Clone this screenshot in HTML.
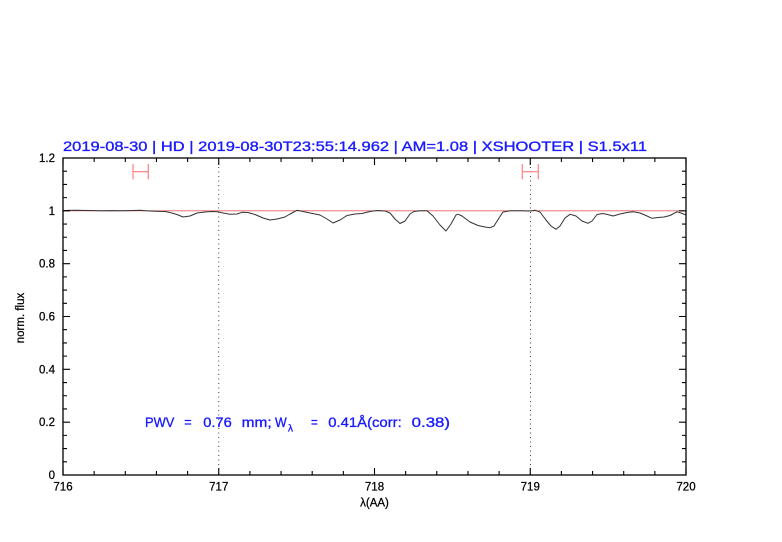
<!DOCTYPE html>
<html><head><meta charset="utf-8"><style>
html,body{margin:0;padding:0;background:#fff;}
svg{display:block;}
text{font-family:"Liberation Sans","DejaVu Sans",sans-serif;}
</style></head><body>
<svg width="782" height="542" viewBox="0 0 782 542" xmlns="http://www.w3.org/2000/svg">
<rect width="782" height="542" fill="#fff"/>
<!-- title -->
<text x="63" y="151" font-size="14" fill="#1a1aff" stroke="#1a1aff" stroke-width="0.35" textLength="584" lengthAdjust="spacingAndGlyphs">2019-08-30 | HD | 2019-08-30T23:55:14.962 | AM=1.08 | XSHOOTER | S1.5x11</text>
<!-- dotted verticals -->
<line x1="218.7" y1="158" x2="218.7" y2="475" stroke="#444" stroke-width="1" stroke-dasharray="1,3.5"/>
<line x1="530.5" y1="158" x2="530.5" y2="475" stroke="#444" stroke-width="1" stroke-dasharray="1,3.5"/>
<!-- unity line -->
<line x1="63" y1="210.8" x2="686" y2="210.8" stroke="#e86060" stroke-width="0.9"/>
<!-- spectrum -->
<polyline fill="none" stroke="#333" stroke-width="1" stroke-linejoin="round" points="63,210.5 75,210.3 90,210.5 100,210.8 112,210.6 120,210.7 130,210.6 140,210.3 146,210.8 155,211.2 165,211.5 170,212.5 177,214.5 183,217 190,216 197,213 205,212 212,211.5 218,211.8 223,213 230,214.2 237,214 242,212.3 248,212.5 255,214.5 263,218 270,220 277,219 285,217 290,214 297,210.3 303,211.5 310,213 320,215 327,219 333,223 340,220 347,215.5 355,214 362,213.5 368,212 373,211 378,210.5 385,211 390,213 395,219 400,223.5 405,221 410,214 414,211.5 420,210.8 427,210.8 433,216 440,225 446,231 451,224 456,215 458,214.2 462,216 470,222 478,225.5 485,227 490,227.7 494,226 499,218 503,212 510,210.8 520,210.8 530,211 535,210.2 540,212 546,220 551,226 556,229.3 560,226 565,218 570,214.3 576,216 582,221 588,223.3 592,221 597,214.5 603,213.5 608,214.6 613,216 620,214 627,212.5 633,211.7 640,213 647,216 652,218.3 658,217.5 664,217 670,215.5 677,211.8 681,213 686,215"/>
<!-- error bars -->
<g stroke="#ff8080" stroke-width="1.2">
<line x1="133" y1="171.7" x2="148.3" y2="171.7"/>
<line x1="133" y1="164" x2="133" y2="179.3"/>
<line x1="148.3" y1="164" x2="148.3" y2="179.3"/>
<line x1="522.3" y1="171.7" x2="538.3" y2="171.7"/>
<line x1="522.3" y1="164" x2="522.3" y2="179.3"/>
<line x1="538.3" y1="164" x2="538.3" y2="179.3"/>
</g>
<!-- frame -->
<rect x="63" y="158" width="623" height="317" fill="none" stroke="#000" stroke-width="1.3"/>
<g stroke="#000" stroke-width="1.1">
<path d="M63,475v-7M218.75,475v-7M374.5,475v-7M530.25,475v-7M686,475v-7
M63,158v7M218.75,158v7M374.5,158v7M530.25,158v7M686,158v7"/>
<path d="M94.15,475v-4M125.3,475v-4M156.45,475v-4M187.6,475v-4
M249.9,475v-4M281.05,475v-4M312.2,475v-4M343.35,475v-4
M405.65,475v-4M436.8,475v-4M467.95,475v-4M499.1,475v-4
M561.4,475v-4M592.55,475v-4M623.7,475v-4M654.85,475v-4
M94.15,158v4M125.3,158v4M156.45,158v4M187.6,158v4
M249.9,158v4M281.05,158v4M312.2,158v4M343.35,158v4
M405.65,158v4M436.8,158v4M467.95,158v4M499.1,158v4
M561.4,158v4M592.55,158v4M623.7,158v4M654.85,158v4"/>
<path d="M63,475h7M63,422.17h7M63,369.33h7M63,316.5h7M63,263.67h7M63,210.83h7M63,158h7
M686,475h-7M686,422.17h-7M686,369.33h-7M686,316.5h-7M686,263.67h-7M686,210.83h-7M686,158h-7"/>
<path d="M63,461.79h4M63,448.58h4M63,435.38h4
M63,408.96h4M63,395.75h4M63,382.54h4
M63,356.13h4M63,342.92h4M63,329.71h4
M63,303.29h4M63,290.08h4M63,276.88h4
M63,250.46h4M63,237.25h4M63,224.04h4
M63,197.63h4M63,184.42h4M63,171.21h4
M686,461.79h-4M686,448.58h-4M686,435.38h-4
M686,408.96h-4M686,395.75h-4M686,382.54h-4
M686,356.13h-4M686,342.92h-4M686,329.71h-4
M686,303.29h-4M686,290.08h-4M686,276.88h-4
M686,250.46h-4M686,237.25h-4M686,224.04h-4
M686,197.63h-4M686,184.42h-4M686,171.21h-4"/>
</g>
<!-- y tick labels -->
<g font-size="11.5" fill="#000" stroke="#000" stroke-width="0.25" text-anchor="end">
<text x="55" y="479">0</text>
<text x="55" y="426.2">0.2</text>
<text x="55" y="373.3">0.4</text>
<text x="55" y="320.5">0.6</text>
<text x="55" y="267.7">0.8</text>
<text x="55" y="214.8">1</text>
<text x="55" y="162">1.2</text>
</g>
<!-- x tick labels -->
<g font-size="11.5" fill="#000" stroke="#000" stroke-width="0.25" text-anchor="middle">
<text x="63" y="490.5">716</text>
<text x="218.75" y="490.5">717</text>
<text x="374.5" y="490.5">718</text>
<text x="530.25" y="490.5">719</text>
<text x="686" y="490.5">720</text>
</g>
<!-- axis labels -->
<text x="374.5" y="506.5" font-size="11.5" text-anchor="middle" fill="#000" stroke="#000" stroke-width="0.25">λ(AA)</text>
<text transform="translate(24,318) rotate(-90)" font-size="11.5" text-anchor="middle" fill="#000" stroke="#000" stroke-width="0.25">norm. flux</text>
<!-- PWV annotation -->
<g fill="#1a1aff" stroke="#1a1aff" stroke-width="0.35" font-size="14">
<text x="145" y="427" textLength="29.3" lengthAdjust="spacingAndGlyphs">PWV</text>
<text x="184.3" y="427" textLength="7.4" lengthAdjust="spacingAndGlyphs">=</text>
<text x="203.3" y="427" textLength="28.4" lengthAdjust="spacingAndGlyphs">0.76</text>
<text x="241.7" y="427" textLength="30" lengthAdjust="spacingAndGlyphs">mm;</text>
<text x="275" y="427" textLength="11.7" lengthAdjust="spacingAndGlyphs">W</text>
<text x="288" y="431.5" font-size="10">λ</text>
<text x="311" y="427" textLength="6.7" lengthAdjust="spacingAndGlyphs">=</text>
<text x="328.3" y="427" textLength="73.4" lengthAdjust="spacingAndGlyphs">0.41Å(corr:</text>
<text x="411.7" y="427" textLength="38.3" lengthAdjust="spacingAndGlyphs">0.38)</text>
</g>
</svg>
</body></html>
